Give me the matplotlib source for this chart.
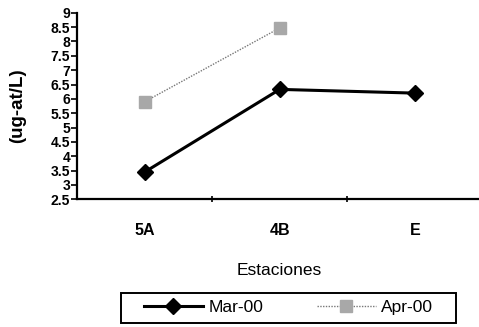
import matplotlib
matplotlib.use("Agg")
import matplotlib.pyplot as plt
from matplotlib.patches import Rectangle

stations = ["5A", "4B", "E"]
mar_00 = [3.45, 6.33, 6.2]
apr_00 = [5.9, 8.47]
y_ticks = [2.5, 3, 3.5, 4, 4.5, 5, 5.5, 6, 6.5, 7, 7.5, 8, 8.5, 9]

plt.rcParams["font.family"] = ["Liberation Sans", "DejaVu Sans"]

W, H = 479, 327
fig = plt.figure(figsize=(W / 100, H / 100), dpi=100)
ax = fig.add_axes([0.161, 0.3905, 0.846, 0.5705])

x = list(range(len(stations)))
ax.plot(x, mar_00, color="black", lw=2.2, marker="D", ms=8.5,
        markerfacecolor="black", markeredgecolor="black", label="Mar-00")
ax.plot(x[:len(apr_00)], apr_00, color="#777777", lw=1.0, ls=(0, (1, 1)),
        marker="s", ms=9, markerfacecolor="#a8a8a8", markeredgecolor="#a8a8a8",
        label="Apr-00")

ax.set_xlim(-0.5, 2.5)
ax.set_ylim(2.5, 9)
ax.set_yticks(y_ticks)
ax.set_yticklabels([f"{v:g}" for v in y_ticks], fontsize=10, fontweight="bold")
ax.set_xticks([0.5, 1.5])
ax.set_xticklabels([])
ax.set_xticks(x, minor=True)
ax.set_xticklabels(stations, minor=True, fontsize=11.5, fontweight="bold")
ax.tick_params(axis="x", which="minor", length=0, pad=17)
ax.tick_params(axis="x", which="major", length=4, direction="inout", width=1.2)
ax.tick_params(axis="y", length=4, direction="out", width=1.2, pad=1)

for s in ["top", "right"]:
    ax.spines[s].set_visible(False)
for s in ["left", "bottom"]:
    ax.spines[s].set_linewidth(1.6)

ax.set_ylabel("(ug-at/L)", fontsize=13.5, fontweight="bold", labelpad=18)
ax.set_xlabel("Estaciones", fontsize=12.5, labelpad=18)

# Legend box drawn as a separate frame in figure pixels
box_l, box_r, box_t, box_b = 121, 456, 292.7, 322.7
fig.patches.append(Rectangle((box_l / W, 1 - box_b / H), (box_r - box_l) / W,
                             (box_b - box_t) / H, transform=fig.transFigure,
                             fill=False, edgecolor="black", linewidth=1.4))
leg = ax.legend(loc="center", bbox_to_anchor=((box_l + box_r) / 2 / W, 1 - (box_t + box_b) / 2 / H),
                bbox_transform=fig.transFigure, ncol=2, frameon=False,
                fontsize=12.5, handlelength=3.4, columnspacing=3.1,
                borderpad=0.3, handletextpad=0.3)

fig.savefig("out.png", dpi=100)
